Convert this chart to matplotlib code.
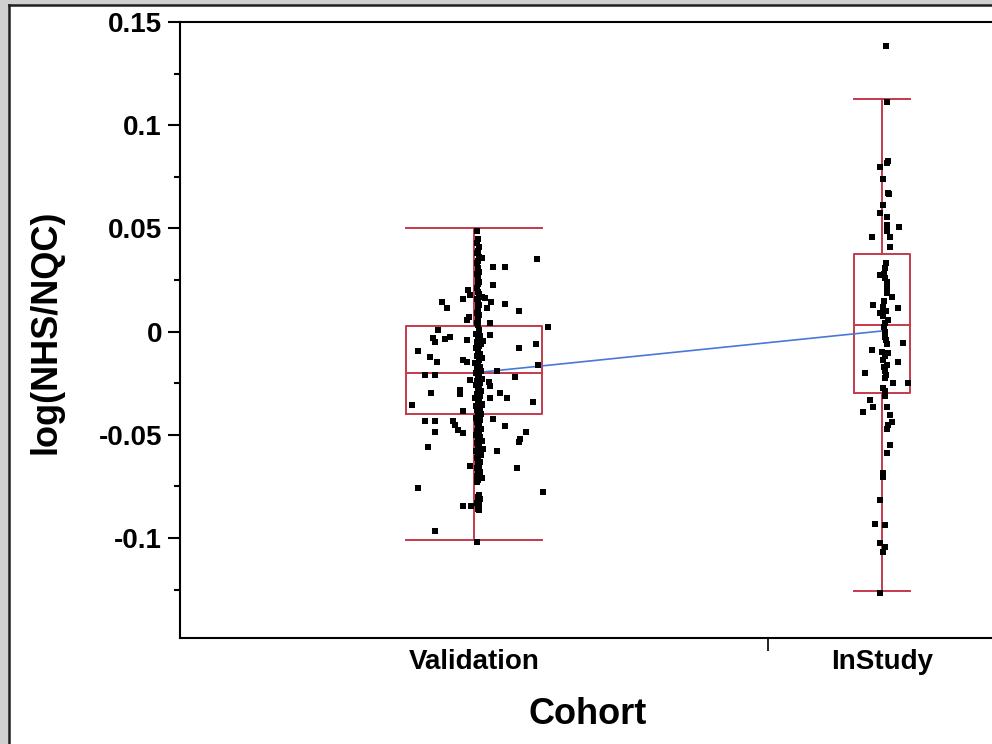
import numpy as np
import matplotlib
matplotlib.use("Agg")
import matplotlib.pyplot as plt
from matplotlib.patches import Rectangle
from matplotlib.lines import Line2D

# categories and summary values
cohorts = ["Validation", "InStudy"]
means = [-0.0200, 0.0003]
box_q1 = [-0.0400, -0.0299]
box_med = [-0.0199, 0.0032]
box_q3 = [0.0025, 0.0374]
whisk_lo = [-0.1010, -0.1255]
whisk_hi = [0.0502, 0.1125]

# Validation: scattered points (jitter in px from centre, value)
val_jit = [3, 8, 63, 19, 31, 19, -6, -4, -11, 8, 11, -32, -27, 17, 31, 13, 45, -5, -7, 16,
           74, -36, -41, -39, -24, -29, -7, 16, 9, 62, 45, -56, -44, -37, -11, -7, 64, 23, 41, -49,
           -39, 15, 16, -4, -14, -14, -43, 26, 33, 16, 59, -62, 8, -11, -49, -39, -21, -19, 19, -16,
           -11, -39, 31, 52, 46, -46, 45, 23, 9, -4, 43, 8, -56, 69, -11, -3, -39, 3]
val_y = [0.0487, 0.0355, 0.0350, 0.0315, 0.0315, 0.0226, 0.0202, 0.0177, 0.0158, 0.0169,
         0.0165, 0.0145, 0.0113, 0.0145, 0.0132, 0.0113, 0.0100, 0.0072, 0.0056, 0.0040,
         0.0024, 0.0008, -0.0032, -0.0049, -0.0025, -0.0035, -0.0041, -0.0016, -0.0045, -0.0060,
         -0.0081, -0.0092, -0.0125, -0.0149, -0.0138, -0.0146, -0.0162, -0.0190, -0.0218, -0.0210,
         -0.0210, -0.0243, -0.0265, -0.0235, -0.0283, -0.0300, -0.0296, -0.0296, -0.0323, -0.0323,
         -0.0343, -0.0356, -0.0356, -0.0385, -0.0432, -0.0432, -0.0432, -0.0453, -0.0425, -0.0477,
         -0.0493, -0.0485, -0.0458, -0.0487, -0.0521, -0.0558, -0.0536, -0.0579, -0.0570, -0.0650,
         -0.0660, -0.0711, -0.0759, -0.0776, -0.0843, -0.0843, -0.0966, -0.1020]

# Validation: dense column near the centre
col_jit = [4, 3, 5, 4, 3, 5, 4, 3, 4, 5, 3, 4, 5, 4, 3, 4, 5, 3, 4, 5, 4, 3, 5, 4, 3, 4, 5,
           2, 6, 4, 3, 7, 5, 2, 4, 6, 3, 8, 5, 1, 4, 6, 3, 7, 2, 5, 4, 8, 3, 6,
           2, 5, 4, 7, 3, 6, 1, 5, 4, 8, 2, 6, 3, 5, 7, 4, 2, 6, 3, 5,
           4, 7, 3, 5, 2, 6, 4, 8, 3, 5, 4, 6, 2, 5, 7, 3, 4, 6,
           4, 5, 3, 4, 6, 4, 3, 5, 4, 3, 5, 4, 6, 4, 3, 5, 4, 4, 5, 4]
col_y = [0.045, 0.043, 0.041, 0.039, 0.038, 0.036, 0.034, 0.033, 0.031, 0.029, 0.028, 0.026,
         0.024, 0.023, 0.021, 0.019, 0.018, 0.016, 0.014, 0.013, 0.011, 0.009, 0.008, 0.006,
         0.004, 0.003, 0.001,
         -0.001, -0.002, -0.003, -0.005, -0.006, -0.007, -0.008, -0.010, -0.011, -0.012, -0.013,
         -0.014, -0.015, -0.016, -0.017, -0.018, -0.019, -0.020, -0.021, -0.022, -0.023, -0.024,
         -0.025, -0.026, -0.027, -0.028, -0.029, -0.030, -0.031, -0.032, -0.033, -0.034, -0.035,
         -0.036, -0.037, -0.038, -0.039, -0.040, -0.041, -0.042, -0.043, -0.044, -0.045,
         -0.046, -0.047, -0.048, -0.049, -0.050, -0.051, -0.052, -0.053, -0.054, -0.055, -0.056,
         -0.057, -0.058, -0.059, -0.060, -0.061, -0.062, -0.063,
         -0.064, -0.065, -0.066, -0.067, -0.068, -0.069, -0.070, -0.071, -0.072, -0.073,
         -0.079, -0.080, -0.081, -0.082, -0.083, -0.084, -0.085, -0.086, -0.0865, -0.060]

# InStudy points
ins_jit = [4, 5, 6, 5, -2, 1, 6, 7, 1, -2, 5, 5, 17, -10, 8, 5, 8, 3, -2, 5,
           5, 10, 5, -9, 1, 16, -2, 1, 6, 3, 3, 21, -10, 0, 6, 1, 16, 5, -17, 3,
           3, 11, 26, 1, 3, -12, -9, -19, 5, 8, 10, 6, 5, 8, 5, 1, 1, -2, -7, 3,
           -2, 3, 1, -2, 4, 2, 3, 5, 2, 4, 3, 2, 4, 5, 3, 2, 4, 3]
ins_y = [0.1383, 0.1114, 0.0827, 0.0815, 0.0799, 0.0738, 0.0670, 0.0665, 0.0613, 0.0573,
         0.0557, 0.0516, 0.0508, 0.0460, 0.0460, 0.0485, 0.0411, 0.0307, 0.0274, 0.0242,
         0.0210, 0.0169, 0.0185, 0.0129, 0.0121, 0.0113, 0.0089, 0.0078, 0.0056, 0.0000,
         -0.0025, -0.0057, -0.0089, -0.0097, -0.0105, -0.0138, -0.0146, -0.0160, -0.0202, -0.0191,
         -0.0226, -0.0250, -0.0250, -0.0272, -0.0290, -0.0331, -0.0364, -0.0388, -0.0364, -0.0404,
         -0.0437, -0.0453, -0.0470, -0.0550, -0.0590, -0.0687, -0.0705, -0.0816, -0.0932, -0.0937,
         -0.1023, -0.1042, -0.1066, -0.1268, 0.0330, 0.0280, 0.0260, 0.0190, 0.0150, 0.0100,
         0.0040, 0.0020, -0.0040, -0.0060, -0.0120, -0.0170, -0.0210, -0.0310]

RED = "#c43a4c"
BLUE = "#4a78d8"
PXW = 816.0  # axes width in px, x axis is 0..1

fig = plt.figure(figsize=(9.92, 7.44), dpi=100)
ax = fig.add_axes([180 / 992, 1 - 638 / 744, 816 / 992, 616 / 744])

split = 588 / PXW
centers = [split / 2, (split + 1) / 2]
widths = [136 / PXW, 56 / PXW]

stats = []
for i in range(2):
    stats.append(dict(med=box_med[i], q1=box_q1[i], q3=box_q3[i],
                      whislo=whisk_lo[i], whishi=whisk_hi[i], fliers=[]))
ax.bxp(stats, positions=centers, widths=widths, capwidths=widths, showfliers=False,
       boxprops=dict(color=RED, lw=1.4), whiskerprops=dict(color=RED, lw=1.4),
       capprops=dict(color=RED, lw=1.4), medianprops=dict(color=RED, lw=1.4),
       manage_ticks=False, zorder=2)

ax.plot(centers, means, color=BLUE, lw=1.2, zorder=3)

vx = centers[0] + np.array(val_jit + col_jit) / PXW
vy = np.array(val_y + col_y)
ix = centers[1] + np.array(ins_jit) / PXW
iy = np.array(ins_y)
ax.plot(vx, vy, "s", color="black", ms=4.2, mew=0, zorder=4)
ax.plot(ix, iy, "s", color="black", ms=4.2, mew=0, zorder=4)

ax.set_xlim(0, 1)
ax.set_ylim(0.15 - 616 / 2064, 0.15)
ax.set_yticks([0.15, 0.1, 0.05, 0, -0.05, -0.1])
ax.set_yticklabels(["0.15", "0.1", "0.05", "0", "-0.05", "-0.1"])
ax.set_yticks([0.125, 0.075, 0.025, -0.025, -0.075, -0.125], minor=True)
ax.set_xticks(centers)
ax.set_xticklabels(cohorts)
ax.set_xticks([split], minor=True)

font = dict(family="Liberation Sans", weight="bold")
for lab in ax.get_yticklabels() + ax.get_xticklabels():
    lab.set_fontproperties(matplotlib.font_manager.FontProperties(size=20, **font))
ax.tick_params(axis="y", which="major", length=9, width=1.5, pad=4, color="black")
ax.tick_params(axis="y", which="minor", length=4.5, width=1.5, color="black")
ax.tick_params(axis="x", which="major", length=0, pad=8)
ax.tick_params(axis="x", which="minor", length=9.5, width=1.2)

ax.set_xlabel("Cohort", fontsize=26, va="center", **font)
ax.xaxis.set_label_coords(0.5, (638 - 715) / 616)
ax.set_ylabel("log(NHS/NQC)", fontsize=26, va="center", **font)
ax.yaxis.set_label_coords((46 - 180) / PXW, (638 - 332) / 616)

for s in ax.spines.values():
    s.set_linewidth(1.5)
    s.set_color("black")

# gray window frame
fig.patches.append(Rectangle((0, 0), 8 / 992, 1, transform=fig.transFigure,
                             color="#d0d0d0", zorder=0))
fig.patches.append(Rectangle((0, 1 - 4 / 744), 1, 4 / 744, transform=fig.transFigure,
                             color="#d0d0d0", zorder=0))
fig.add_artist(Line2D([9 / 992, 9 / 992], [0, 1 - 5 / 744], transform=fig.transFigure,
                      color="#202020", lw=1.8))
fig.add_artist(Line2D([9 / 992, 1], [1 - 5 / 744, 1 - 5 / 744], transform=fig.transFigure,
                      color="#202020", lw=1.8))

fig.savefig("out.png", dpi=100)
